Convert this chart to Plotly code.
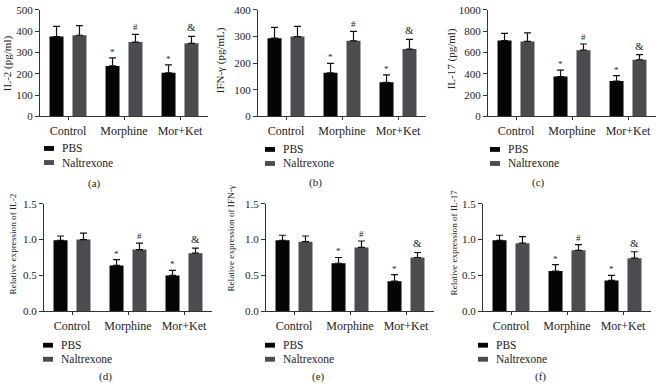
import plotly.graph_objects as go

W, H = 658, 389

categories = ["Control", "Morphine", "Mor+Ket"]
series_names = ["PBS", "Naltrexone"]

# panel values: means and upper error (SD) for PBS and Naltrexone
il2_pbs = [375, 237, 205]
il2_pbs_err = [48, 38, 37]
il2_nal = [381, 349, 343]
il2_nal_err = [45, 36, 33]

ifn_pbs = [294, 164, 128]
ifn_pbs_err = [40, 35, 28]
ifn_nal = [300, 284, 253]
ifn_nal_err = [38, 35, 36]

il17_pbs = [713, 375, 332]
il17_pbs_err = [66, 60, 52]
il17_nal = [704, 622, 532]
il17_nal_err = [81, 58, 48]

rel_il2_pbs = [0.99, 0.64, 0.50]
rel_il2_pbs_err = [0.06, 0.08, 0.07]
rel_il2_nal = [1.00, 0.86, 0.81]
rel_il2_nal_err = [0.09, 0.09, 0.07]

rel_ifn_pbs = [0.99, 0.67, 0.42]
rel_ifn_pbs_err = [0.07, 0.08, 0.09]
rel_ifn_nal = [0.97, 0.89, 0.75]
rel_ifn_nal_err = [0.08, 0.09, 0.07]

rel_il17_pbs = [0.99, 0.56, 0.43]
rel_il17_pbs_err = [0.07, 0.09, 0.07]
rel_il17_nal = [0.95, 0.85, 0.74]
rel_il17_nal_err = [0.09, 0.08, 0.09]

y_titles = ["IL-2 (pg/ml)", "IFN-γ (pg/mL)", "IL-17 (pg/ml)",
            "Relative expression of IL-2", "Relative expression of IFN-γ",
            "Relative expression of IL-17"]
y_ranges = [500, 400, 1000, 1.5, 1.5, 1.5]
y_dticks = [100, 100, 200, 0.5, 0.5, 0.5]
panel_labels = ["(a)", "(b)", "(c)", "(d)", "(e)", "(f)"]
pbs_marks = ["", "*", "*"]
nal_marks = ["", "#", "&"]

panels = [
    (il2_pbs, il2_pbs_err, il2_nal, il2_nal_err),
    (ifn_pbs, ifn_pbs_err, ifn_nal, ifn_nal_err),
    (il17_pbs, il17_pbs_err, il17_nal, il17_nal_err),
    (rel_il2_pbs, rel_il2_pbs_err, rel_il2_nal, rel_il2_nal_err),
    (rel_ifn_pbs, rel_ifn_pbs_err, rel_ifn_nal, rel_ifn_nal_err),
    (rel_il17_pbs, rel_il17_pbs_err, rel_il17_nal, rel_il17_nal_err),
]

# layout geometry (pixels)
x_px = [(40, 208), (258, 426), (488, 656), (44, 212), (266, 434), (483, 651)]
y_px_top = (4, 114)
y_px_bot = (204, 315)
title_pos = [(7, 59), (220, 56), (451, 55), (13, 246), (231, 240), (454, 244)]
title_size = [11, 11, 11, 9.2, 9.2, 9.2]
legend_pos = [(44, 147), (265, 148), (490, 148), (43, 350), (265, 350), (478, 350)]
label_pos = [(94, 183), (315, 182), (538, 182), (105, 382), (318, 382), (540, 382)]

PBS_COLOR = "#050505"
NAL_COLOR = "#4b4b50"
TXT = "#222222"
FONT = "Liberation Serif"

BAR_W = 0.25
OFF_PBS = -0.33
OFF_NAL = 0.08

fig = go.Figure()
layout = dict(
    width=W, height=H, margin=dict(l=0, r=0, t=0, b=0),
    paper_bgcolor="white", plot_bgcolor="white",
    showlegend=False, font=dict(family=FONT, color=TXT, size=11),
)
annotations = []
shapes = []

def px2x(p):
    return p / W

def px2y(p):
    return 1 - p / H

for i, (pbs, pbs_err, nal, nal_err) in enumerate(panels):
    n = i + 1
    xa = "x" if n == 1 else f"x{n}"
    ya = "y" if n == 1 else f"y{n}"
    xkey = "xaxis" if n == 1 else f"xaxis{n}"
    ykey = "yaxis" if n == 1 else f"yaxis{n}"
    ypx = y_px_top if i < 3 else y_px_bot
    for vals, errs, color, off, name in [
        (pbs, pbs_err, PBS_COLOR, OFF_PBS, "PBS"),
        (nal, nal_err, NAL_COLOR, OFF_NAL, "Naltrexone"),
    ]:
        fig.add_trace(go.Bar(
            x=categories, y=vals, name=name, xaxis=xa, yaxis=ya,
            width=BAR_W, offset=off, marker=dict(color=color, line=dict(width=0)),
            error_y=dict(type="data", array=errs, arrayminus=[0] * len(errs),
                         symmetric=False, color="#111111", thickness=1.2, width=3.5),
        ))
    layout[xkey] = dict(
        domain=[px2x(x_px[i][0]), px2x(x_px[i][1])], anchor=ya,
        type="category", range=[-0.5, 2.5], showline=True, linecolor="#333333",
        linewidth=1, ticks="outside", ticklen=3, tickcolor="#333333",
        tickfont=dict(size=12, family=FONT, color=TXT), showgrid=False, fixedrange=True,
    )
    layout[ykey] = dict(
        domain=[px2y(ypx[1]), px2y(ypx[0])], anchor=xa,
        range=[0, y_ranges[i]], dtick=y_dticks[i], tick0=0,
        tickformat=".1f" if y_ranges[i] < 10 else "d",
        showline=True, linecolor="#333333", linewidth=1, ticks="outside",
        ticklen=4, tickcolor="#333333", showgrid=False, zeroline=False,
        tickfont=dict(size=11, family=FONT, color=TXT), fixedrange=True,
    )
    # significance marks
    for j in range(3):
        if pbs_marks[j]:
            annotations.append(dict(
                x=j + OFF_PBS + BAR_W / 2, y=pbs[j] + pbs_err[j], xref=xa, yref=ya,
                text=pbs_marks[j], showarrow=False, yanchor="bottom", yshift=-1,
                font=dict(size=9, family=FONT, color=TXT)))
        if nal_marks[j]:
            annotations.append(dict(
                x=j + OFF_NAL + BAR_W / 2, y=nal[j] + nal_err[j], xref=xa, yref=ya,
                text=nal_marks[j], showarrow=False, yanchor="bottom",
                yshift=0 if nal_marks[j] == "#" else 1,
                font=dict(size=9 if nal_marks[j] == "#" else 11, family=FONT, color=TXT)))
    # y-axis title
    tx, ty = title_pos[i]
    annotations.append(dict(
        x=px2x(tx), y=px2y(ty), xref="paper", yref="paper", text=y_titles[i],
        textangle=-90, showarrow=False, xanchor="center", yanchor="middle",
        font=dict(size=title_size[i], family=FONT, color=TXT)))
    # legend
    lx, ly = legend_pos[i]
    for k, (nm, col) in enumerate([("PBS", PBS_COLOR), ("Naltrexone", NAL_COLOR)]):
        yy = ly + k * 14.5
        shapes.append(dict(type="rect", xref="paper", yref="paper",
                           x0=px2x(lx), x1=px2x(lx + 10), y0=px2y(yy + 2.5), y1=px2y(yy - 2.5),
                           fillcolor=col, line=dict(width=0)))
        annotations.append(dict(
            x=px2x(lx + 16), y=px2y(yy), xref="paper", yref="paper", text=nm,
            showarrow=False, xanchor="left", yanchor="middle",
            font=dict(size=11.5, family=FONT, color=TXT)))
    # panel label
    px_, py_ = label_pos[i]
    annotations.append(dict(
        x=px2x(px_), y=px2y(py_), xref="paper", yref="paper", text=panel_labels[i],
        showarrow=False, xanchor="center", yanchor="middle",
        font=dict(size=11, family=FONT, color=TXT)))

layout["annotations"] = annotations
layout["shapes"] = shapes
fig.update_layout(**layout)
fig.write_html(
    "out.html",
    config={"displayModeBar": False},
    post_script="document.body.style.margin='0';document.body.style.overflow='hidden';"
                "window.dispatchEvent(new Event('resize'));",
)
